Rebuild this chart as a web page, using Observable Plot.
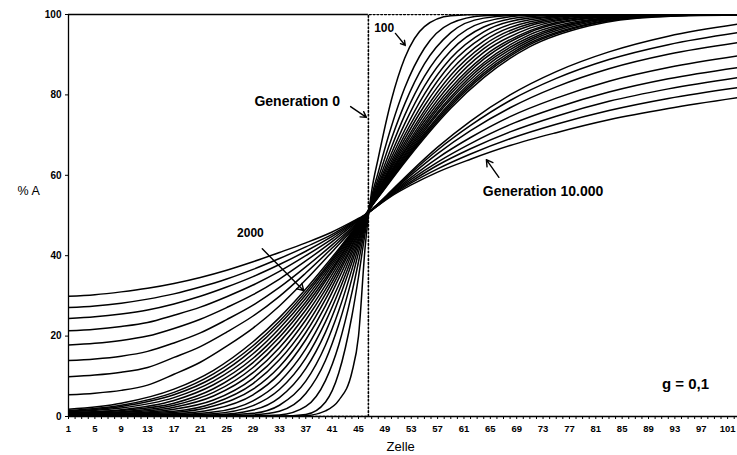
<!DOCTYPE html>
<html><head><meta charset="utf-8">
<script src="https://cdn.jsdelivr.net/npm/d3@7"></script>
<script src="https://cdn.jsdelivr.net/npm/@observablehq/plot@0.6"></script>
<style>
body{margin:0;background:#fff;}
#chart svg{display:block;}
</style></head><body><div id="chart"></div>
<script>
// x positions (Zelle) where the curves were read
const earlyCells = [1,9,17,23,29,33,37,40,42,44,45,46,47,48,50,52,55,59,64,71,80,90,103];
const lateCells  = [1,5,9,13,17,21,25,29,33,37,41,44,46,47,48,50,53,57,62,68,75,83,92,103];

const earlyGenerations = [100,200,300,400,500,600,700,800,900,1000,1100,1200,1300,1400,1500,1600,1700,1800,1900,2000];
const lateGenerations  = [3000,4000,5000,6000,7000,8000,9000,10000];

// % A per generation (dense early family)
const g100  = [0,0,0,0,0,0,0.2,1.4,4.0,11.0,20.0,42.0, 56.1,64.3,78.8,89.1,97.0,99.7,100,100,100,100,100];
const g200  = [0.1,0.1,0.1,0.1,0.1,0.1,0.5,3.6,10.8,25.0,34.7,45.6, 54.7,60.8,72.2,81.7,91.6,97.8,99.7,100,100,100,100];
const g300  = [0.2,0.2,0.2,0.2,0.2,0.4,2.5,9.0,17.8,30.8,38.5,46.8, 54.1,59.3,69.1,77.7,87.7,95.5,99.1,99.9,100,100,100];
const g400  = [0.2,0.2,0.2,0.2,0.4,1.3,5.7,14.0,22.9,34.3,40.8,47.5, 53.8,58.3,67.0,74.9,84.6,93.1,98.1,99.8,100,100,100];
const g500  = [0.3,0.3,0.3,0.3,0.8,2.8,8.8,17.8,26.3,36.6,42.2,47.9, 53.5,57.6,65.5,72.8,82.2,91.0,96.9,99.5,100,100,100];
const g600  = [0.3,0.3,0.3,0.4,1.6,4.7,11.9,21.0,29.1,38.3,43.2,48.3, 53.3,57.1,64.4,71.2,80.2,89.1,95.7,99.1,99.9,100,100];
const g700  = [0.4,0.4,0.4,0.7,2.7,6.7,14.5,23.6,31.1,39.5,44.0,48.5, 53.1,56.7,63.5,70.0,78.6,87.6,94.5,98.7,99.9,100,100];
const g800  = [0.4,0.4,0.5,1.1,3.9,8.6,16.8,25.7,32.7,40.6,44.6,48.8, 53.0,56.3,62.8,69.0,77.3,86.1,93.4,98.2,99.8,100,100];
const g900  = [0.5,0.5,0.7,1.8,5.4,10.6,19.1,27.6,34.3,41.4,45.2,48.9, 52.9,56.0,62.2,68.1,76.1,84.9,92.4,97.7,99.7,100,100];
const g1000 = [0.5,0.6,1.0,2.6,6.8,12.4,20.9,29.2,35.5,42.2,45.6,49.1, 52.8,55.8,61.8,67.4,75.2,83.8,91.5,97.2,99.5,100,100];
const g1100 = [0.6,0.7,1.3,3.3,8.2,14.1,22.5,30.5,36.4,42.7,46.0,49.3, 52.7,55.6,61.3,66.7,74.3,82.8,90.6,96.6,99.4,99.9,100];
const g1200 = [0.6,0.8,1.8,4.1,9.5,15.6,24.0,31.6,37.3,43.3,46.3,49.4, 52.7,55.4,60.9,66.1,73.5,81.8,89.6,96.0,99.2,99.9,100];
const g1300 = [0.7,1.0,2.3,5.1,10.9,17.1,25.3,32.7,38.1,43.7,46.6,49.5, 52.6,55.3,60.6,65.7,72.8,81.0,88.9,95.6,99.0,99.9,100];
const g1400 = [0.8,1.2,2.8,6.0,12.2,18.5,26.5,33.7,38.8,44.1,46.9,49.6, 52.5,55.1,60.3,65.2,72.2,80.3,88.0,95.0,98.7,99.8,100];
const g1500 = [0.9,1.5,3.3,6.9,13.4,19.7,27.6,34.4,39.3,44.5,47.1,49.7, 52.5,55.0,60.0,64.8,71.6,79.5,87.4,94.4,98.5,99.8,100];
const g1600 = [1.0,1.7,4.0,7.9,14.5,20.8,28.5,35.2,39.9,44.8,47.3,49.8, 52.5,54.9,59.7,64.4,71.1,78.9,86.7,93.9,98.3,99.7,100];
const g1700 = [1.2,2.1,4.7,8.8,15.6,21.9,29.4,35.9,40.4,45.1,47.5,49.9, 52.4,54.8,59.5,64.0,70.5,78.2,86.0,93.4,98.0,99.6,100];
const g1800 = [1.3,2.5,5.4,9.7,16.7,22.9,30.3,36.5,40.9,45.4,47.7,50.0, 52.4,54.7,59.3,63.7,70.1,77.7,85.4,92.9,97.7,99.5,100];
const g1900 = [1.5,2.8,6.0,10.6,17.6,23.7,31.0,37.0,41.3,45.7,47.9,50.0, 52.4,54.6,59.1,63.5,69.7,77.2,84.9,92.5,97.5,99.5,100];
const g2000 = [1.8,3.3,6.8,11.5,18.6,24.6,31.7,37.6,41.7,45.9,48.0,50.2, 52.3,54.5,58.9,63.2,69.3,76.7,84.3,92.0,97.2,99.4,99.9];

// % A per generation (spread late family)
const g3000  = [5.4,5.8,6.5,7.8,10.5,13.5,17.5,22.0,27.5,34.0,41.0,46.3,49.7, 51.5,53.0,56.2,61.0,67.0,73.5,80.0,85.8,90.7,94.6,97.7];
const g4000  = [9.9,10.3,11.0,12.2,14.7,17.4,21.0,25.0,29.9,35.7,41.9,46.7,49.8, 51.5,52.9,56.0,60.6,66.3,72.4,78.6,84.1,88.8,92.5,95.6];
const g5000  = [13.9,14.3,15.0,16.2,18.3,20.8,24.1,27.7,32.1,37.2,42.7,47.0,49.9, 51.4,52.9,55.8,60.1,65.4,71.1,76.8,82.0,86.5,90.1,93.1];
const g6000  = [17.8,18.2,18.9,20.0,21.9,24.2,27.1,30.3,34.2,38.7,43.5,47.4,50.0, 51.4,52.8,55.6,59.5,64.3,69.4,74.6,79.2,83.4,86.8,89.8];
const g7000  = [21.3,21.7,22.4,23.4,25.2,27.2,29.8,32.7,36.1,40.0,44.2,47.7,50.0, 51.4,52.7,55.4,59.0,63.3,67.9,72.6,76.8,80.7,84.0,86.9];
const g8000  = [24.4,24.8,25.5,26.5,28.0,29.9,32.2,34.8,37.8,41.1,44.8,47.9,50.1, 51.4,52.6,55.2,58.5,62.5,66.6,70.8,74.7,78.4,81.5,84.4];
const g9000  = [27.1,27.5,28.2,29.2,30.5,32.2,34.2,36.6,39.3,42.2,45.3,48.2,50.1, 51.3,52.6,55.0,58.1,61.6,65.3,69.1,72.7,76.1,79.1,81.9];
const g10000 = [29.9,30.3,31.0,31.9,33.1,34.6,36.4,38.5,40.8,43.2,45.9,48.4,50.2, 51.3,52.5,54.8,57.6,60.8,64.0,67.4,70.6,73.8,76.6,79.4];

// Generation 0: step profile
const gen0Cells  = [1,46,47,103];
const gen0Values = [0,0,100,100];

const yTicks = [0,20,40,60,80,100];
const xTickLabels = [1,5,9,13,17,21,25,29,33,37,41,45,49,53,57,61,65,69,73,77,81,85,89,93,97,101];
const xMinorTicks = d3.range(1,103);

// annotations (data coordinates)
const labels = [
  {text:"Generation 0", zelle:35.7, a:78.4, size:14},
  {text:"Generation 10.000", zelle:73.0, a:56.0, size:14},
  {text:"100", zelle:48.9, a:96.5, size:12},
  {text:"2000", zelle:28.6, a:45.5, size:12},
  {text:"g = 0,1", zelle:94.6, a:8.0, size:15}
];
const arrows = [
  {z1:43.8, a1:77.1, z2:46.2, a2:74.4},
  {z1:66.3, a1:59.5, z2:64.4, a2:63.9},
  {z1:50.6, a1:95.3, z2:52.1, a2:92.3},
  {z1:30.4, a1:41.7, z2:36.7, a2:31.3}
];

const earlyValues = [g100,g200,g300,g400,g500,g600,g700,g800,g900,g1000,g1100,g1200,g1300,g1400,g1500,g1600,g1700,g1800,g1900,g2000];
const lateValues = [g3000,g4000,g5000,g6000,g7000,g8000,g9000,g10000];

const rows = [];
earlyGenerations.forEach((g,i)=>earlyValues[i].forEach((v,j)=>rows.push({gen:g, zelle:earlyCells[j], a:v})));
lateGenerations.forEach((g,i)=>lateValues[i].forEach((v,j)=>rows.push({gen:g, zelle:lateCells[j], a:v})));
const gen0 = gen0Cells.map((c,i)=>({zelle:c, a:gen0Values[i]}));

const font = "'Liberation Sans', Arial, sans-serif";
const chart = Plot.plot({
  width: 737, height: 455,
  marginLeft: 68, marginRight: 0, marginTop: 14, marginBottom: 39,
  style: {fontFamily: font, background: "#fff", color: "#000"},
  x: {domain: [1, 102.5]},
  y: {domain: [0, 100]},
  marks: [
    Plot.axisX({ticks: xMinorTicks, tickSize: 3, tickPadding: 6, fontSize: 9.5, fontWeight: "bold",
      tickFormat: d => xTickLabels.includes(d) ? String(d) : "", label: null}),
    Plot.axisY({ticks: yTicks, tickSize: 3, tickPadding: 4, fontSize: 10, fontWeight: "bold", label: null}),
    Plot.ruleX([1], {stroke: "#000", strokeWidth: 1.3}),
    Plot.ruleY([0], {stroke: "#000", strokeWidth: 1.3}),
    Plot.ruleY([100], {x1: 1, x2: 46.5, stroke: "#000", strokeWidth: 1.3}),
    Plot.line(gen0, {x: "zelle", y: "a", curve: "step", stroke: "#000", strokeWidth: 1.6, strokeDasharray: "1.6,2.2", clip: true}),
    Plot.line(rows, {x: "zelle", y: "a", z: "gen", curve: "monotone-x", stroke: "#000", strokeWidth: 1.5, clip: true}),
    Plot.arrow(arrows, {x1: "z1", y1: "a1", x2: "z2", y2: "a2", stroke: "#000", strokeWidth: 1.4, headLength: 8}),
    Plot.text(labels, {x: "zelle", y: "a", text: "text", fontSize: d => d.size, fontWeight: "bold", fill: "#000"}),
    Plot.text(["% A"], {frameAnchor: "left", y: [56.2], dx: -51, textAnchor: "start", fontSize: 12.5, fill: "#000"}),
    Plot.text(["Zelle"], {frameAnchor: "bottom", x: [51.4], dy: 34, fontSize: 13, fill: "#000"})
  ]
});
document.getElementById("chart").appendChild(chart);
</script>
</body></html>
